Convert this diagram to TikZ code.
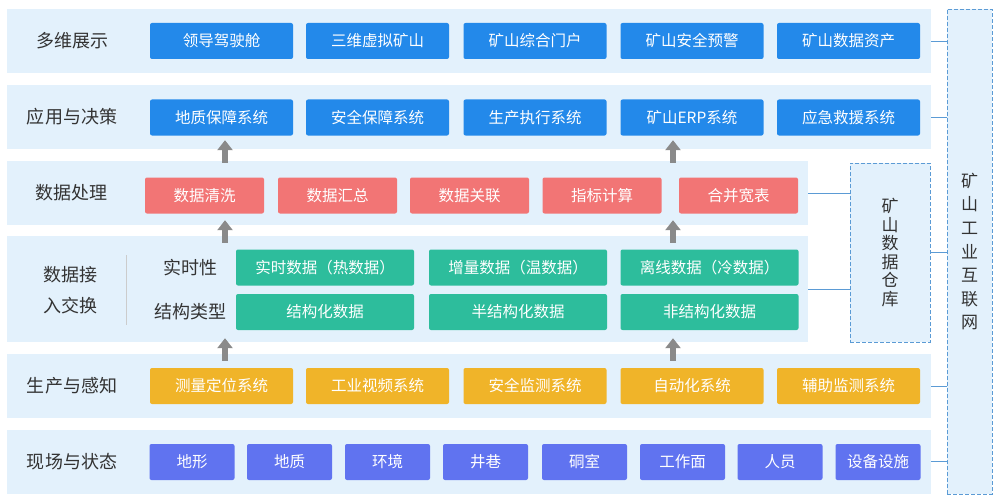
\documentclass[tikz,border=0pt]{standalone}
\usepackage{fontspec}
\setmainfont{Noto Sans CJK SC}
\usetikzlibrary{arrows.meta,calc}
\definecolor{bandbg}{HTML}{E3F1FC}
\definecolor{boxblue}{HTML}{2389EA}
\definecolor{boxred}{HTML}{F27575}
\definecolor{boxgreen}{HTML}{2DBD9C}
\definecolor{boxyellow}{HTML}{F0B429}
\definecolor{boxviolet}{HTML}{6073F0}
\definecolor{arrowgray}{HTML}{8A8A8A}
\definecolor{linkblue}{HTML}{5B9BD5}
\definecolor{txtgray}{HTML}{333333}

\begin{document}
\begin{tikzpicture}[x=1pt,y=-1pt,
  band/.style={fill=bandbg,inner sep=0pt},
  lbl/.style={text=txtgray,font=\fontsize{18}{31}\selectfont,align=center},
  sysbox/.style={rounded corners=2pt,inner sep=0pt,minimum height=36pt,
    text=white,font=\fontsize{15.5}{18}\selectfont},
  bluebox/.style={sysbox,fill=boxblue,minimum width=143pt},
  redbox/.style={sysbox,fill=boxred,minimum width=119pt},
  greenbox/.style={sysbox,fill=boxgreen,minimum width=178pt},
  yellowbox/.style={sysbox,fill=boxyellow,minimum width=143pt},
  violetbox/.style={sysbox,fill=boxviolet,minimum width=85pt},
  dashbox/.style={draw=linkblue,fill=bandbg,dash pattern=on 4pt off 2pt,
    line width=0.8pt,inner sep=0pt,text=txtgray,align=center},
  link/.style={draw=linkblue,line width=0.9pt},
  uparrow/.style={draw=arrowgray,line width=5.5pt,-{Triangle[width=15pt,length=10pt]}}]
\useasboundingbox (0,0) rectangle (1000,500);

% layers
\node[band,minimum width=924pt,minimum height=64pt] (show) at (469,41) {};
\node[band,minimum width=924pt,minimum height=64pt] (app) at (469,117) {};
\node[band,minimum width=801pt,minimum height=64pt] (proc) at (407.5,193) {};
\node[band,minimum width=801pt,minimum height=106pt] (acc) at (407.5,289) {};
\node[band,minimum width=924pt,minimum height=64pt] (prod) at (469,386) {};
\node[band,minimum width=924pt,minimum height=64pt] (site) at (469,461.5) {};

% layer labels
\node[lbl] (tshow) at (72,41) {多维展示};
\node[lbl] (tapp) at (72,117) {应用与决策};
\node[lbl] (tproc) at (71,193) {数据处理};
\node[lbl] (tacc) at (70,290) {数据接\\入交换};
\node[lbl] (tprod) at (72,386) {生产与感知};
\node[lbl] (tsite) at (72,462) {现场与状态};

% 多维展示
\node[bluebox] (s1) at (221.5,41) {领导驾驶舱};
\node[bluebox] (s2) at (377.5,41) {三维虚拟矿山};
\node[bluebox] (s3) at (535,41) {矿山综合门户};
\node[bluebox] (s4) at (692,41) {矿山安全预警};
\node[bluebox] (s5) at (848.5,41) {矿山数据资产};

% 应用与决策
\node[bluebox] (a1) at (221.5,117.5) {地质保障系统};
\node[bluebox] (a2) at (377.5,117.5) {安全保障系统};
\node[bluebox] (a3) at (535,117.5) {生产执行系统};
\node[bluebox] (a4) at (692,117.5) {矿山ERP系统};
\node[bluebox] (a5) at (848.5,117.5) {应急救援系统};

% 数据处理
\node[redbox] (p1) at (204.5,195.5) {数据清洗};
\node[redbox] (p2) at (337.5,195.5) {数据汇总};
\node[redbox] (p3) at (469.5,195.5) {数据关联};
\node[redbox] (p4) at (602,195.5) {指标计算};
\node[redbox] (p5) at (738.5,195.5) {合并宽表};

% 数据接入交换
\draw[draw=black!20,line width=0.8pt] (126,255) -- (126,325);
\node[lbl] (trt) at (190,267.5) {实时性};
\node[lbl] (tst) at (190,312) {结构类型};
\node[greenbox] (r1) at (325,267.5) {实时数据（热数据）};
\node[greenbox] (r2) at (518,267.5) {增量数据（温数据）};
\node[greenbox] (r3) at (709.5,267.5) {离线数据（冷数据）};
\node[greenbox] (c1) at (325,312) {结构化数据};
\node[greenbox] (c2) at (518,312) {半结构化数据};
\node[greenbox] (c3) at (709.5,312) {非结构化数据};

% 生产与感知
\node[yellowbox] (m1) at (221.5,386) {测量定位系统};
\node[yellowbox] (m2) at (377.5,386) {工业视频系统};
\node[yellowbox] (m3) at (535,386) {安全监测系统};
\node[yellowbox] (m4) at (692,386) {自动化系统};
\node[yellowbox] (m5) at (848.5,386) {辅助监测系统};

% 现场与状态
\node[violetbox] (f1) at (192,462) {地形};
\node[violetbox] (f2) at (289.5,462) {地质};
\node[violetbox] (f3) at (387.5,462) {环境};
\node[violetbox] (f4) at (485.5,462) {井巷};
\node[violetbox] (f5) at (584.5,462) {硐室};
\node[violetbox] (f6) at (682.5,462) {工作面};
\node[violetbox] (f7) at (780,462) {人员};
\node[violetbox] (f8) at (878,462) {设备设施};

% side boxes
\node[dashbox,minimum width=80pt,minimum height=179pt,
  font=\fontsize{17}{18.6}\selectfont] (ware) at (890,252.5) {矿\\山\\数\\据\\仓\\库};
\node[dashbox,minimum width=45pt,minimum height=485pt,
  font=\fontsize{17}{23.6}\selectfont] (net) at (969.5,251.5) {矿\\山\\工\\业\\互\\联\\网};

% links
\draw[link] (show.east) -- (show.east -| net.west);
\draw[link] (app.east) -- (app.east -| net.west);
\draw[link] (prod.east) -- (prod.east -| net.west);
\draw[link] (site.east) -- (site.east -| net.west);
\draw[link] (proc.east) -- (proc.east -| ware.west);
\draw[link] (acc.east) -- (acc.east -| ware.west);
\draw[link] (ware.east) -- (ware.east -| net.west);

% arrows
\coordinate (ax1) at (225,0);
\coordinate (ax2) at (673,0);
\draw[uparrow] ([yshift=-2pt]proc.north -| ax1) -- ([yshift=9pt]app.south -| ax1);
\draw[uparrow] ([yshift=-2pt]proc.north -| ax2) -- ([yshift=9pt]app.south -| ax2);
\draw[uparrow] ([yshift=-7pt]acc.north -| ax1) -- ([yshift=5pt]proc.south -| ax1);
\draw[uparrow] ([yshift=-7pt]acc.north -| ax2) -- ([yshift=5pt]proc.south -| ax2);
\draw[uparrow] ([yshift=-7pt]prod.north -| ax1) -- ([yshift=4pt]acc.south -| ax1);
\draw[uparrow] ([yshift=-7pt]prod.north -| ax2) -- ([yshift=4pt]acc.south -| ax2);
\end{tikzpicture}
\end{document}
